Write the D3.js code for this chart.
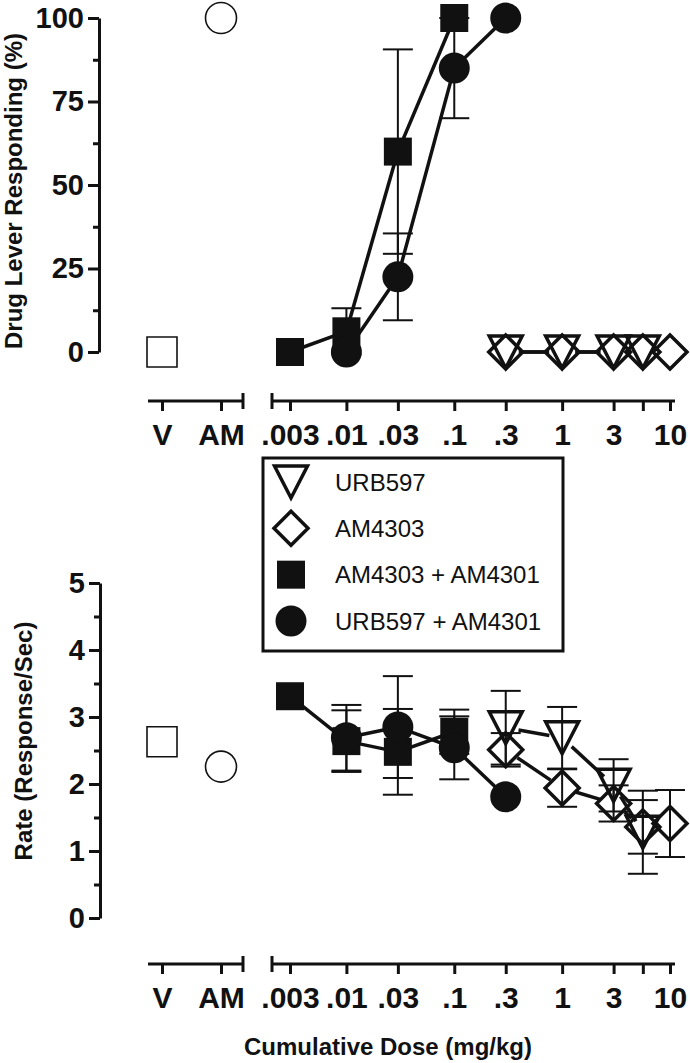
<!DOCTYPE html>
<html>
<head>
<meta charset="utf-8">
<script src="https://cdn.jsdelivr.net/npm/d3@7"></script>
<style>
  html, body { margin: 0; padding: 0; background: #fff; }
  svg { display: block; font-family: "Liberation Sans", Arial, Helvetica, sans-serif; }
</style>
</head>
<body>
<svg id="chart" width="690" height="1063"></svg>
<script>
// ---------------- DATA ----------------
const controlCats = ["V", "AM"];
const controlShapes = ["openSquare", "openCircle"];
const controlDrug = [0, 100];
const controlRate = [2.63, 2.26];

const doseTicks = [0.003, 0.01, 0.03, 0.1, 0.3, 1, 3, 5.6, 10];
const doseTickLabels = [".003", ".01", ".03", ".1", ".3", "1", "3", "", "10"];

const drugTicks = [0, 25, 50, 75, 100];
const drugMinor = [12.5, 37.5, 62.5, 87.5];
const rateTicks = [0, 1, 2, 3, 4, 5];
const rateMinor = [0.5, 1.5, 2.5, 3.5, 4.5];

// URB597 alone
const urbDoses = [0.3, 1, 3, 5.6];
const urbDrug = [0, 0, 0, 0];
const urbDrugErr = [0, 0, 0, 0];
const urbRate = [2.84, 2.69, 1.98, 1.28];
const urbRateErr = [0.55, 0.46, 0.39, 0.62];

// AM4303 alone
const am4303Doses = [0.3, 1, 3, 5.6, 10];
const am4303Drug = [0, 0, 0, 0, 0];
const am4303DrugErr = [0, 0, 0, 0, 0];
const am4303Rate = [2.51, 1.94, 1.71, 1.36, 1.41];
const am4303RateErr = [0.25, 0.28, 0.27, 0.40, 0.50];

// AM4303 + AM4301
const am4303ComboDoses = [0.003, 0.01, 0.03, 0.1];
const am4303ComboDrug = [0, 6.2, 60, 100];
const am4303ComboDrugErr = [0, 6.9, 30.6, 0];
const am4303ComboRate = [3.31, 2.64, 2.48, 2.78];
const am4303ComboRateErr = [0, 0.46, 0.64, 0.33];

// URB597 + AM4301
const urbComboDoses = [0.01, 0.03, 0.1, 0.3];
const urbComboDrug = [0, 22.5, 85, 100];
const urbComboDrugErr = [0, 13, 15, 0];
const urbComboRate = [2.69, 2.85, 2.54, 1.81];
const urbComboRateErr = [0.49, 0.76, 0.47, 0];

const legendLabels = ["URB597", "AM4303", "AM4303 + AM4301", "URB597 + AM4301"];
const legendShapes = ["triangle", "diamond", "square", "circle"];

// ---------------- SYMBOLS ----------------
function shapePath(type) {
  switch (type) {
    case "triangle": return "M-16.5,-16L16.5,-16L0,16Z";
    case "diamond": return "M0,-17L17,0L0,17L-17,0Z";
    case "square": return "M-14,-14H14V14H-14Z";
    case "circle": return d3.arc()({innerRadius: 0, outerRadius: 15.5, startAngle: 0, endAngle: 2 * Math.PI});
    case "openSquare": return "M-15,-15H15V15H-15Z";
    case "openCircle": return d3.arc()({innerRadius: 0, outerRadius: 15.5, startAngle: 0, endAngle: 2 * Math.PI});
  }
}
const shapeStyle = {
  triangle:   {fill: "none", stroke: "#111", sw: 3.5, trim: 13},
  diamond:    {fill: "none", stroke: "#111", sw: 3.5, trim: 14},
  square:     {fill: "#111", stroke: "none", sw: 0, trim: 0},
  circle:     {fill: "#111", stroke: "none", sw: 0, trim: 0},
  openSquare: {fill: "none", stroke: "#111", sw: 1.6, trim: 0},
  openCircle: {fill: "none", stroke: "#111", sw: 1.6, trim: 0}
};

const svg = d3.select("#chart");
svg.append("rect").attr("width", 690).attr("height", 1063).attr("fill", "#fff");

const xDose = d3.scaleLog().domain([0.003, 10]).range([290, 670]);
const xCtrl = d3.scalePoint().domain(controlCats).range([162, 221]);

function makeSeries(shape, doses, vals, errs) {
  return {shape, pts: doses.map((d, i) => ({x: d, y: vals[i], e: errs[i]}))};
}

function drawPanel(opt) {
  const g = svg.append("g");
  const y = opt.y;
  // Y axis
  const yAxis = d3.axisLeft(y).tickValues(opt.ticks).tickFormat(d3.format("d"))
    .tickSize(11).tickSizeOuter(0).tickPadding(4);
  const ya = g.append("g").attr("transform", `translate(${opt.axisX},0)`).call(yAxis);
  const yMinor = d3.axisLeft(y).tickValues(opt.minor).tickSize(6).tickSizeOuter(0).tickFormat("");
  const ym = g.append("g").attr("transform", `translate(${opt.axisX},0)`).call(yMinor);
  ym.select(".domain").remove();
  [ya, ym].forEach(a => {
    a.selectAll("path.domain").attr("stroke", "#111").attr("stroke-width", 3);
    a.selectAll(".tick line").attr("stroke", "#111").attr("stroke-width", 3);
  });
  ya.selectAll(".tick text").attr("font-size", 29).attr("font-weight", "bold").attr("fill", "#111")
    .attr("font-family", "'Liberation Sans', Arial, sans-serif");

  // Y title
  g.append("text").attr("transform", `translate(${opt.titleX},${opt.titleY}) rotate(-90)`)
    .attr("text-anchor", "middle").attr("font-size", 24).attr("font-weight", "bold").attr("fill", "#111")
    .text(opt.title);

  // X axes (two segments)
  const axY = opt.xAxisY;
  const xa1 = g.append("g").attr("transform", `translate(0,${axY})`)
    .call(d3.axisBottom(xCtrl).tickSize(10).tickSizeOuter(0).tickPadding(13));
  const xa2 = g.append("g").attr("transform", `translate(0,${axY})`)
    .call(d3.axisBottom(xDose).tickValues(doseTicks).tickFormat((d, i) => doseTickLabels[i])
      .tickSize(10).tickSizeOuter(0).tickPadding(13));
  [xa1, xa2].forEach(a => {
    a.select(".domain").remove();
    a.selectAll(".tick line").attr("stroke", "#111").attr("stroke-width", 3);
    a.selectAll(".tick text").attr("font-size", 30).attr("font-weight", "bold").attr("fill", "#111")
      .attr("font-family", "'Liberation Sans', Arial, sans-serif");
  });
  // segment lines with break caps
  const segs = [[148, 243, 243], [272, 675, 272]];
  segs.forEach(([a, b, cap]) => {
    g.append("line").attr("x1", a).attr("x2", b).attr("y1", axY).attr("y2", axY)
      .attr("stroke", "#111").attr("stroke-width", 3);
    g.append("line").attr("x1", cap).attr("x2", cap).attr("y1", axY - 8).attr("y2", axY + 8)
      .attr("stroke", "#111").attr("stroke-width", 3);
  });

  // Series
  const series = opt.series;
  // error bars
  series.forEach(s => {
    s.pts.forEach(p => {
      if (!p.e) return;
      const cx = xDose(p.x);
      const yt = y(p.y + p.e), yb = y(p.y - p.e);
      g.append("line").attr("x1", cx).attr("x2", cx).attr("y1", yt).attr("y2", yb)
        .attr("stroke", "#111").attr("stroke-width", 2);
      [yt, yb].forEach(yy => g.append("line").attr("x1", cx - 15).attr("x2", cx + 15)
        .attr("y1", yy).attr("y2", yy).attr("stroke", "#111").attr("stroke-width", 2));
    });
  });
  // connecting lines (trimmed at hollow symbols)
  series.forEach(s => {
    const st = shapeStyle[s.shape];
    for (let i = 0; i < s.pts.length - 1; i++) {
      const x1 = xDose(s.pts[i].x), y1 = y(s.pts[i].y);
      const x2 = xDose(s.pts[i + 1].x), y2 = y(s.pts[i + 1].y);
      const L = Math.hypot(x2 - x1, y2 - y1);
      if (L <= 2 * st.trim) continue;
      const ux = (x2 - x1) / L, uy = (y2 - y1) / L;
      g.append("line")
        .attr("x1", x1 + ux * st.trim).attr("y1", y1 + uy * st.trim)
        .attr("x2", x2 - ux * st.trim).attr("y2", y2 - uy * st.trim)
        .attr("stroke", "#111").attr("stroke-width", 3.5);
    }
  });
  // symbols
  series.forEach(s => {
    const st = shapeStyle[s.shape];
    g.selectAll(null).data(s.pts).join("path")
      .attr("d", shapePath(s.shape))
      .attr("transform", p => `translate(${xDose(p.x)},${y(p.y)})`)
      .attr("fill", st.fill).attr("stroke", st.stroke).attr("stroke-width", st.sw)
      .attr("stroke-linejoin", "miter");
  });
  // controls
  opt.controls.forEach((v, i) => {
    const st = shapeStyle[controlShapes[i]];
    g.append("path").attr("d", shapePath(controlShapes[i]))
      .attr("transform", `translate(${xCtrl(controlCats[i])},${y(v)})`)
      .attr("fill", st.fill).attr("stroke", st.stroke).attr("stroke-width", st.sw);
  });
}

// Top panel
drawPanel({
  y: d3.scaleLinear().domain([0, 100]).range([352, 18]),
  ticks: drugTicks, minor: drugMinor, axisX: 99,
  title: "Drug Lever Responding (%)", titleX: 22, titleY: 191,
  xAxisY: 401,
  controls: controlDrug,
  series: [
    makeSeries("triangle", urbDoses, urbDrug, urbDrugErr),
    makeSeries("diamond", am4303Doses, am4303Drug, am4303DrugErr),
    makeSeries("square", am4303ComboDoses, am4303ComboDrug, am4303ComboDrugErr),
    makeSeries("circle", urbComboDoses, urbComboDrug, urbComboDrugErr)
  ]
});

// Bottom panel
drawPanel({
  y: d3.scaleLinear().domain([0, 5]).range([918, 583]),
  ticks: rateTicks, minor: rateMinor, axisX: 100,
  title: "Rate (Response/Sec)", titleX: 32, titleY: 741,
  xAxisY: 964,
  controls: controlRate,
  series: [
    makeSeries("triangle", urbDoses, urbRate, urbRateErr),
    makeSeries("diamond", am4303Doses, am4303Rate, am4303RateErr),
    makeSeries("square", am4303ComboDoses, am4303ComboRate, am4303ComboRateErr),
    makeSeries("circle", urbComboDoses, urbComboRate, urbComboRateErr)
  ]
});

// X title
svg.append("text").attr("x", 388).attr("y", 1055).attr("text-anchor", "middle")
  .attr("font-size", 24).attr("font-weight", "bold").attr("fill", "#111")
  .text("Cumulative Dose (mg/kg)");

// Legend
const leg = svg.append("g");
leg.append("rect").attr("x", 263).attr("y", 458).attr("width", 300).attr("height", 193)
  .attr("fill", "#fff").attr("stroke", "#111").attr("stroke-width", 3);
const legRow = d3.scalePoint().domain(legendLabels).range([482, 621]);
legendLabels.forEach((lab, i) => {
  const st = shapeStyle[legendShapes[i]];
  leg.append("path").attr("d", shapePath(legendShapes[i]))
    .attr("transform", `translate(291,${legRow(lab)})`)
    .attr("fill", st.fill).attr("stroke", st.stroke).attr("stroke-width", st.sw);
  leg.append("text").attr("x", 335).attr("y", legRow(lab) + 8.5)
    .attr("font-size", 24).attr("fill", "#111").text(lab);
});
</script>
</body>
</html>
